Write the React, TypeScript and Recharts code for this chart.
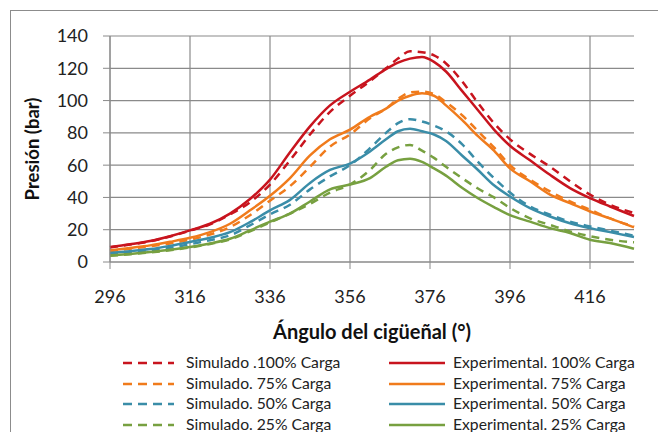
import React from "react";
import { LineChart, Line, XAxis, YAxis, CartesianGrid } from "recharts";

// Ángulo del cigüeñal (°)
const angles = [
  296, 301, 306, 311, 316, 321, 326, 331, 336, 341, 346, 351, 356, 361, 365,
  368, 371, 374, 377, 380, 384, 388, 392, 396, 401, 406, 411, 416, 421, 427,
];

// Presión (bar)
const sim100 = [
  9, 10.8, 12.8, 15.8, 19.4, 23.3, 29.5, 37, 48, 63, 79, 93, 103, 112, 120,
  126, 130.5, 130, 128, 123, 112, 98.5, 86, 76, 67, 59, 50, 41.7, 35.5, 30.3,
];
const exp100 = [
  9.3, 11, 13, 16, 19.6, 23.7, 30, 39, 51, 68, 84, 97, 105.5, 113, 119.5,
  123.5, 126, 127, 124, 118, 106, 94, 82, 72, 63, 54, 45.8, 39.6, 34.4, 28.5,
];
const sim75 = [
  6.8, 8.2, 9.7, 11.5, 13.8, 17, 21.6, 29, 38, 47, 59, 71.5, 79, 89, 95, 101,
  105, 105.5, 104, 99, 91, 81, 71, 60, 51, 43.7, 37.5, 32.4, 27, 22,
];
const exp75 = [
  7.2, 8.7, 10.3, 12.5, 15, 18.5, 23.7, 32, 41, 52, 66, 76, 82, 90, 95, 100,
  103, 104.5, 103, 97, 88, 78, 69, 58, 50, 41.7, 36.5, 31.3, 27, 21.4,
];
const sim50 = [
  4.7, 5.8, 7, 8.8, 11, 13.5, 16.5, 22.7, 29.5, 35.5, 45, 53, 60, 70.5, 80, 86,
  88.5, 87, 84.5, 81, 73, 62, 52, 43, 34.4, 29.3, 25, 22, 19.4, 16.3,
];
const exp50 = [
  5.6, 6.7, 8, 10, 12.4, 15, 18.5, 24.7, 32, 38.5, 49, 57, 61, 68.5, 76, 81,
  82.5, 81, 79, 75, 66, 57, 47.5, 40.6, 33.4, 28.2, 24, 21, 18.5, 15.5,
];
const sim25 = [
  3.8, 4.8, 5.9, 7.3, 9, 11.2, 14, 19, 24.5, 30, 36, 43, 48, 57, 67, 71, 72.5,
  69, 64.5, 59, 52, 45.5, 40, 33.5, 27, 23, 19, 16, 13.8, 12.2,
];
const exp25 = [
  4, 5, 6.2, 7.6, 9.3, 11.5, 14.4, 19.6, 25, 30, 37.5, 45, 48, 52, 59, 63, 64,
  62, 58, 53.5, 46, 39.5, 34, 29, 25, 21, 18, 13.8, 11.8, 8.2,
];

const xTicks = [296, 316, 336, 356, 376, 396, 416];
const yTicks = [0, 20, 40, 60, 80, 100, 120, 140];

const loads = ["100", "75", "50", "25"];
const simNames = [
  "Simulado .100% Carga",
  "Simulado. 75% Carga",
  "Simulado. 50% Carga",
  "Simulado. 25% Carga",
];
const expNames = [
  "Experimental. 100% Carga",
  "Experimental. 75% Carga",
  "Experimental. 50% Carga",
  "Experimental. 25% Carga",
];
const colors = ["#C8141E", "#F07B1C", "#3A8DA8", "#77A040"];

const simSeries = [sim100, sim75, sim50, sim25];
const expSeries = [exp100, exp75, exp50, exp25];

const data = angles.map((a, i) => {
  const row: Record<string, number> = { x: a };
  loads.forEach((l, k) => {
    row["sim" + l] = simSeries[k][i];
    row["exp" + l] = expSeries[k][i];
  });
  return row;
});

const FONT = "Lato, 'Open Sans', sans-serif";
const GRID = "#8a8a8a";

function LegendBox() {
  return (
    <div style={{ position: "absolute", left: 0, top: 0, width: 658, height: 432, pointerEvents: "none" }}>
      {loads.map((l, k) => {
        const y = 363 + k * 20.7;
        return (
          <React.Fragment key={l}>
            <svg style={{ position: "absolute", left: 122, top: y - 3 }} width={54} height={6}>
              <line x1={1} y1={3} x2={52} y2={3} stroke={colors[k]} strokeWidth={2.5} strokeDasharray="9 6" />
            </svg>
            <div style={{ position: "absolute", left: 186, top: y - 11, fontSize: 15.7, lineHeight: "20px", color: "#222", whiteSpace: "nowrap", fontFamily: FONT }}>
              {simNames[k]}
            </div>
            <svg style={{ position: "absolute", left: 389, top: y - 3 }} width={57} height={6}>
              <line x1={0} y1={3} x2={56} y2={3} stroke={colors[k]} strokeWidth={2.5} />
            </svg>
            <div style={{ position: "absolute", left: 453, top: y - 11, fontSize: 15.7, lineHeight: "20px", color: "#222", whiteSpace: "nowrap", fontFamily: FONT }}>
              {expNames[k]}
            </div>
          </React.Fragment>
        );
      })}
    </div>
  );
}

export default function App() {
  return (
    <div style={{ position: "absolute", left: 0, top: 0, width: 658, height: 432, overflow: "hidden", background: "#fff", fontFamily: FONT }}>
      <div style={{ position: "absolute", left: 10, top: 10, width: 700, height: 500, border: "1px solid #8c8c8c" }} />
      <div style={{ position: "absolute", left: 0, top: 0 }}>
        <LineChart width={658} height={432} data={data} margin={{ top: 36, right: 24, left: 0, bottom: 0 }}>
          <CartesianGrid stroke={GRID} strokeWidth={1.2} horizontalValues={yTicks} verticalValues={xTicks} />
          <XAxis
            dataKey="x"
            type="number"
            domain={[296, 427]}
            ticks={xTicks}
            height={170}
            tickSize={7}
            tickMargin={21}
            stroke={GRID}
            tick={{ fontSize: 18, fill: "#222", fontFamily: FONT }}
            label={(props: any) => {
              const vb = props.viewBox || {};
              return (
                <text x={vb.x + vb.width / 2} y={339} textAnchor="middle" fontSize={20} fontWeight="bold" fill="#111" fontFamily={FONT}>
                  Ángulo del cigüeñal (°)
                </text>
              );
            }}
          />
          <YAxis
            type="number"
            domain={[0, 140]}
            ticks={yTicks}
            width={110}
            tickSize={7}
            tickMargin={15}
            stroke={GRID}
            tick={{ fontSize: 18, fill: "#222", fontFamily: FONT }}
            label={() => (
              <text x={39} y={149} transform="rotate(-90 39 149)" textAnchor="middle" fontSize={18.5} fontWeight="bold" fill="#111" fontFamily={FONT}>
                Presión (bar)
              </text>
            )}
          />
          {loads.map((l, k) => (
            <Line
              key={"sim" + l}
              type="monotone"
              dataKey={"sim" + l}
              stroke={colors[k]}
              strokeWidth={2.5}
              strokeDasharray="8 6"
              dot={false}
              isAnimationActive={false}
            />
          ))}
          {loads.map((l, k) => (
            <Line
              key={"exp" + l}
              type="monotone"
              dataKey={"exp" + l}
              stroke={colors[k]}
              strokeWidth={2.5}
              dot={false}
              isAnimationActive={false}
            />
          ))}
        </LineChart>
      </div>
      <LegendBox />
    </div>
  );
}
